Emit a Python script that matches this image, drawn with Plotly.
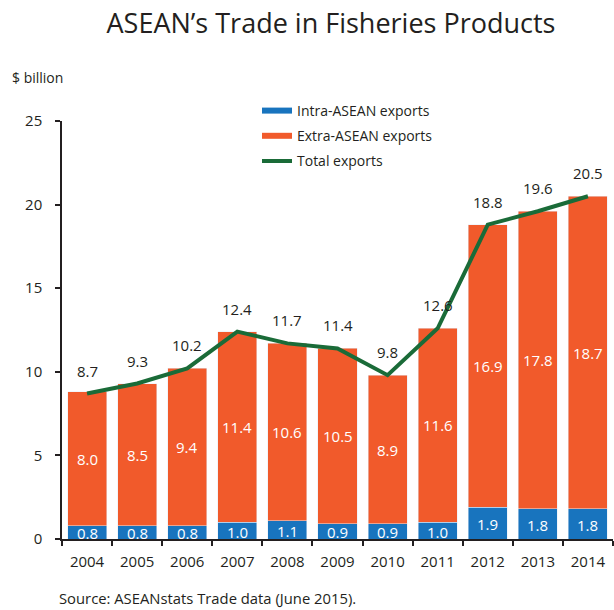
import plotly.graph_objects as go

years = ["2004", "2005", "2006", "2007", "2008", "2009", "2010", "2011", "2012", "2013", "2014"]
intra = [0.8, 0.8, 0.8, 1.0, 1.1, 0.9, 0.9, 1.0, 1.9, 1.8, 1.8]
extra = [8.0, 8.5, 9.4, 11.4, 10.6, 10.5, 8.9, 11.6, 16.9, 17.8, 18.7]
total = [8.7, 9.3, 10.2, 12.4, 11.7, 11.4, 9.8, 12.6, 18.8, 19.6, 20.5]

BLUE = "#1874BE"
ORANGE = "#F15A2B"
GREEN = "#1A6B38"
TXT = "#231F20"
FONT = "Open Sans"

fig = go.Figure()
fig.add_trace(go.Bar(x=years, y=intra, marker_color=BLUE, showlegend=False, hoverinfo="skip"))
fig.add_trace(go.Bar(x=years, y=extra, marker_color=ORANGE, showlegend=False, hoverinfo="skip"))
# legend swatches
fig.add_trace(go.Scatter(x=[years[0]], y=[None], mode="lines", line=dict(color=BLUE, width=6),
                         name="Intra-ASEAN exports", legendgroup="a"))
fig.add_trace(go.Scatter(x=[years[0]], y=[None], mode="lines", line=dict(color=ORANGE, width=6),
                         name="Extra-ASEAN exports", legendgroup="b"))
fig.add_trace(go.Scatter(x=years, y=total, mode="lines", line=dict(color=GREEN, width=4),
                         name="Total exports", legendgroup="c"))

ann = []
for i, (a, b, t) in enumerate(zip(intra, extra, total)):
    ann.append(dict(x=i, y=a / 2, xref="x", yref="y", text=f"{a:.1f}", showarrow=False,
                    font=dict(color="white", size=15, family=FONT), yshift=-1))
    ann.append(dict(x=i, y=a + b / 2, xref="x", yref="y", text=f"{b:.1f}", showarrow=False,
                    font=dict(color="white", size=15, family=FONT)))
    ann.append(dict(x=i, y=t, xref="x", yref="y", text=f"{t:.1f}", showarrow=False,
                    font=dict(color=TXT, size=15, family=FONT), yshift=23))
ann.append(dict(x=10, y=77, text="$ billion", showarrow=False,
                xanchor="left", yanchor="middle", font=dict(color=TXT, size=14, family=FONT)))
ann.append(dict(x=57, y=598, text="Source: ASEANstats Trade data (June 2015).", showarrow=False,
                xanchor="left", yanchor="middle", font=dict(color=TXT, size=14.8, family=FONT)))
# convert pixel-placed annotations to paper coords
W, H = 614, 610
L, R, T, B = 62, 1, 121, 71
pw, ph = W - L - R, H - T - B
for a_ in ann[-2:]:
    px, py = a_["x"], a_["y"]
    a_["xref"] = "paper"; a_["yref"] = "paper"
    a_["x"] = (px - L) / pw
    a_["y"] = 1 - (py - T) / ph

fig.update_layout(
    width=W, height=H,
    margin=dict(l=L, r=R, t=T, b=B, pad=0),
    paper_bgcolor="white", plot_bgcolor="white",
    barmode="stack", bargap=0.22,
    font=dict(family=FONT, color=TXT, size=15),
    title=dict(text="ASEAN\u2019s Trade in Fisheries Products", x=331 / W, xanchor="center",
               y=1 - 24 / H, yanchor="middle", yref="container",
               font=dict(size=27, family=FONT, color=TXT)),
    xaxis=dict(type="category", categoryorder="array", categoryarray=years,
               range=[-0.5, len(years) - 0.5],
               showline=True, linecolor=TXT, linewidth=1.5,
               ticks="outside", tickson="boundaries", ticklen=5, tickcolor=TXT, tickwidth=1.5,
               showgrid=False, tickfont=dict(size=15), ticklabelstandoff=8),
    yaxis=dict(range=[0, 25], tickvals=[0, 5, 10, 15, 20, 25], showline=True, linecolor=TXT,
               linewidth=1.5, ticks="outside", ticklen=5, tickcolor=TXT, tickwidth=1.5,
               showgrid=False, zeroline=False, tickfont=dict(size=15), ticklabelstandoff=10),
    legend=dict(x=(257 - L) / pw, y=1 + (T - 95) / ph, xanchor="left", yanchor="top",
                bgcolor="rgba(0,0,0,0)", font=dict(size=14, color=TXT), tracegroupgap=4,
                itemwidth=30),
    annotations=ann,
)
fig.write_html("out.html")
